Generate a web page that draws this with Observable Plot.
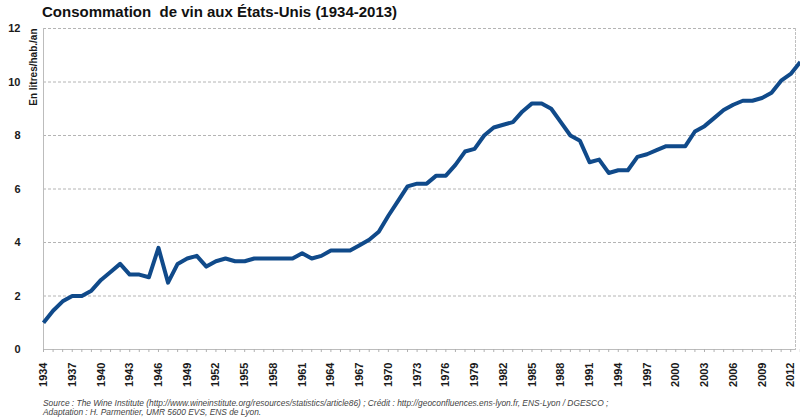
<!DOCTYPE html>
<html>
<head>
<meta charset="utf-8">
<script src="https://cdn.jsdelivr.net/npm/d3@7"></script>
<script src="https://cdn.jsdelivr.net/npm/@observablehq/plot@0.6"></script>
<style>
  html, body { margin: 0; padding: 0; background: #fff; }
  body { width: 800px; height: 420px; position: relative; overflow: hidden; font-family: "Liberation Sans", Arial, sans-serif; }
  #title { position: absolute; left: 42px; top: 3px; font: bold 15px "Liberation Sans", Arial, sans-serif; color: #111; white-space: pre; }
  #chart { position: absolute; left: 0; top: 22px; }
  #caption { position: absolute; left: 43px; top: 399px; font: italic 8.4px "Liberation Sans", Arial, sans-serif; color: #444; line-height: 9px; white-space: nowrap; }
</style>
</head>
<body>
<div id="title">Consommation  de vin aux États-Unis (1934-2013)</div>
<div id="chart"></div>
<div id="caption">Source : The Wine Institute (http://www.wineinstitute.org/resources/statistics/article86) ; Crédit : http://geoconfluences.ens-lyon.fr, ENS-Lyon / DGESCO ;<br>Adaptation : H. Parmentier, UMR 5600 EVS, ENS de Lyon.</div>
<script>
const years = [
  1934, 1935, 1936, 1937, 1938, 1939, 1940, 1941, 1942, 1943,
  1944, 1945, 1946, 1947, 1948, 1949, 1950, 1951, 1952, 1953,
  1954, 1955, 1956, 1957, 1958, 1959, 1960, 1961, 1962, 1963,
  1964, 1965, 1966, 1967, 1968, 1969, 1970, 1971, 1972, 1973,
  1974, 1975, 1976, 1977, 1978, 1979, 1980, 1981, 1982, 1983,
  1984, 1985, 1986, 1987, 1988, 1989, 1990, 1991, 1992, 1993,
  1994, 1995, 1996, 1997, 1998, 1999, 2000, 2001, 2002, 2003,
  2004, 2005, 2006, 2007, 2008, 2009, 2010, 2011, 2012, 2013
];
const litres = [
  1.0, 1.45, 1.8, 2.0, 2.0, 2.2, 2.6, 2.9, 3.2, 2.8,
  2.8, 2.7, 3.8, 2.5, 3.2, 3.4, 3.5, 3.1, 3.3, 3.4,
  3.3, 3.3, 3.4, 3.4, 3.4, 3.4, 3.4, 3.6, 3.4, 3.5,
  3.7, 3.7, 3.7, 3.9, 4.1, 4.4, 5.0, 5.55, 6.1, 6.2,
  6.2, 6.5, 6.5, 6.9, 7.4, 7.5, 8.0, 8.3, 8.4, 8.5,
  8.9, 9.2, 9.2, 9.0, 8.5, 8.0, 7.8, 7.0, 7.1, 6.6,
  6.7, 6.7, 7.2, 7.3, 7.45, 7.6, 7.6, 7.6, 8.15, 8.35,
  8.65, 8.95, 9.15, 9.3, 9.3, 9.4, 9.6, 10.05, 10.3, 10.75
];
const xTickLabels = [1934, 1937, 1940, 1943, 1946, 1949, 1952, 1955, 1958, 1961, 1964, 1967, 1970, 1973, 1976, 1979, 1982, 1985, 1988, 1991, 1994, 1997, 2000, 2003, 2006, 2009, 2012];
const yTicks = [0, 2, 4, 6, 8, 10, 12];
const yGrid = [2, 4, 6, 8, 10, 12];
const yLabel = "En litres/hab./an";

const data = years.map((year, i) => ({year, value: litres[i]}));

const chart = Plot.plot({
  width: 800,
  height: 373,
  marginTop: 6,
  marginLeft: 43,
  marginRight: 5,
  marginBottom: 46,
  style: {fontFamily: "'Liberation Sans', Arial, sans-serif", background: "#fff", overflow: "visible"},
  x: {domain: [1934, 2012.5], label: null},
  y: {domain: [0, 12], label: null},
  marks: [
    Plot.ruleY(yGrid, {stroke: "#b4b4b4", strokeDasharray: "3,2", strokeWidth: 1}),
    Plot.frame({anchor: "right", stroke: "#c0c0c0", strokeDasharray: "2,2"}),
    Plot.frame({anchor: "left", stroke: "#bcbcbc"}),
    Plot.ruleY([0], {stroke: "#bcbcbc"}),
    Plot.axisX({ticks: years, tickSize: 3, tickFormat: () => "", stroke: "#b0b0b0", label: null}),
    Plot.axisX({ticks: xTickLabels, tickSize: 0, tickRotate: -90, tickPadding: 13, tickFormat: d => String(d), fontWeight: "bold", fontSize: 11, fill: "#1a1a1a", label: null}),
    Plot.axisY({ticks: yTicks, tickSize: 0, tickPadding: 23, tickFormat: d => String(d), fontWeight: "bold", fontSize: 11, fill: "#1a1a1a", label: null}),
    Plot.text([yLabel], {frameAnchor: "top-left", text: d => d, rotate: -90, textAnchor: "end", lineAnchor: "middle", dx: -10, fontWeight: "bold", fontSize: 10, fill: "#1a1a1a"}),
    Plot.line(data, {x: "year", y: "value", stroke: "#104a8a", strokeWidth: 4, strokeLinejoin: "round", strokeLinecap: "butt"})
  ]
});
document.getElementById("chart").appendChild(chart);
</script>
</body>
</html>
